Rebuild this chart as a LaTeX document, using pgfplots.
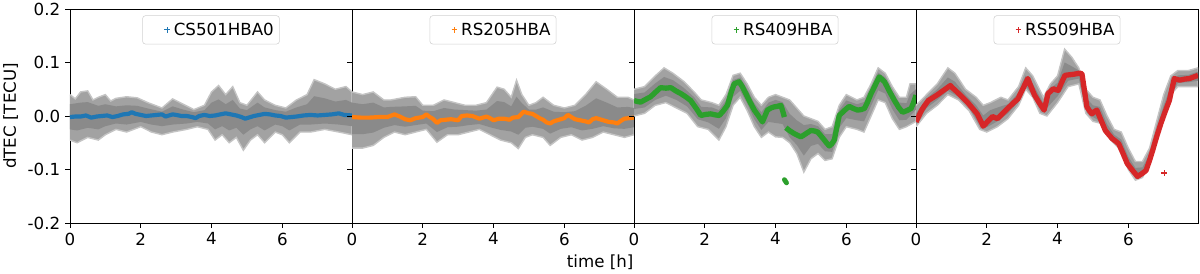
\documentclass[border=0pt]{standalone}
\usepackage{fontspec}
\setmainfont{DejaVu Sans}
\usepackage{pgfplots}
\pgfplotsset{compat=1.18}
\definecolor{C0}{HTML}{1F77B4}
\definecolor{C1}{HTML}{FF7F0E}
\definecolor{C2}{HTML}{2CA02C}
\definecolor{C3}{HTML}{D62728}
\definecolor{gout}{HTML}{A2A2A2}
\definecolor{gedge}{HTML}{C4C4C4}
\definecolor{gin}{HTML}{8A8A8A}
\pgfplotsset{
  panel/.style={
    scale only axis, width=203.04pt, height=154.08pt,
    xmin=0, xmax=7.97, ymin=-0.2, ymax=0.2,
    xtick={0,2,4,6}, ytick={-0.2,-0.1,0,0.1,0.2},
    tick align=outside, tick pos=left, major tick length=3.5pt,
    /pgf/number format/assume math mode=true,
    ticklabel style={font=\fontsize{12}{14}\selectfont},
    label style={font=\fontsize{12}{14}\selectfont},
    axis line style={line width=0.6pt},
    every tick/.style={black, line width=0.6pt},
    legend style={at={(0.5,0.97)}, anchor=north, draw=black!18, rounded corners=2pt,
      fill=white, fill opacity=0.8, text opacity=1, font=\fontsize{12}{14}\selectfont,
      inner xsep=2pt, inner ysep=3pt},
    legend image code/.code={\path[draw=none, fill=none] (0,0) -- (0.65cm,0);
      \draw[##1, line width=0.7pt, mark=+, mark size=2pt, mark options={solid, line width=0.7pt}] plot coordinates {(0.55cm,0cm)};},
  },
  outer/.style={fill=gout, draw=gedge, line width=1pt, forget plot},
  inner/.style={fill=gin, draw=none, forget plot},
}
\begin{document}
\begin{tikzpicture}
\useasboundingbox (-50.4pt,-36.72pt) rectangle (813.6pt,160.56pt);
% ---------------- panel 1 ----------------
\begin{axis}[panel, at={(0pt,0pt)}, ylabel={dTEC [TECU]},
  yticklabels={-0.2,-0.1,0.0,0.1,0.2}]
\addplot[outer] coordinates {
(0,0.040)(0.15,0.032)(0.3,0.045)(0.5,0.047)(0.65,0.030)(0.8,0.035)(1.0,0.040)(1.15,0.028)(1.3,0.033)(1.6,0.036)(1.9,0.034)(2.2,0.025)(2.4,0.020)(2.6,0.015)(2.9,0.032)(3.2,0.022)(3.5,0.012)(3.8,0.020)(4.0,0.045)(4.2,0.057)(4.4,0.040)(4.6,0.055)(4.8,0.025)(5.0,0.020)(5.3,0.045)(5.5,0.030)(5.8,0.020)(6.1,0.015)(6.4,0.030)(6.7,0.040)(6.9,0.068)(7.2,0.060)(7.5,0.050)(7.8,0.055)(7.97,0.045)
(7.97,-0.035)(7.6,-0.030)(7.2,-0.025)(6.8,-0.030)(6.5,-0.030)(6.2,-0.050)(6.0,-0.035)(5.8,-0.030)(5.5,-0.050)(5.3,-0.035)(5.1,-0.045)(4.9,-0.064)(4.7,-0.040)(4.5,-0.050)(4.3,-0.035)(4.1,-0.045)(3.9,-0.025)(3.6,-0.020)(3.3,-0.025)(2.9,-0.030)(2.6,-0.035)(2.3,-0.030)(2.0,-0.020)(1.6,-0.030)(1.3,-0.025)(1.0,-0.035)(0.8,-0.045)(0.5,-0.040)(0.2,-0.050)(0,-0.045)};
\addplot[inner] coordinates {
(0,0.022)(0.3,0.025)(0.5,0.026)(0.8,0.019)(1.0,0.022)(1.3,0.018)(1.6,0.020)(1.9,0.019)(2.2,0.014)(2.6,0.008)(2.9,0.018)(3.2,0.012)(3.5,0.007)(3.8,0.011)(4.0,0.025)(4.2,0.031)(4.4,0.022)(4.6,0.030)(4.8,0.014)(5.0,0.011)(5.3,0.025)(5.5,0.016)(5.8,0.011)(6.1,0.008)(6.4,0.016)(6.7,0.022)(6.9,0.037)(7.2,0.033)(7.5,0.027)(7.8,0.030)(7.97,0.025)
(7.97,-0.019)(7.6,-0.016)(7.2,-0.014)(6.8,-0.016)(6.5,-0.016)(6.2,-0.027)(6.0,-0.019)(5.8,-0.016)(5.5,-0.027)(5.3,-0.019)(5.1,-0.025)(4.9,-0.035)(4.7,-0.022)(4.5,-0.027)(4.3,-0.019)(4.1,-0.025)(3.9,-0.014)(3.6,-0.011)(3.3,-0.014)(2.9,-0.016)(2.6,-0.019)(2.3,-0.016)(2.0,-0.011)(1.6,-0.016)(1.3,-0.014)(1.0,-0.019)(0.8,-0.025)(0.5,-0.022)(0.2,-0.027)(0,-0.025)};
\addplot[C0, line width=3pt, line join=round] coordinates {
(0,-0.002)(0.15,-0.001)(0.3,-0.001)(0.45,0.001)(0.6,-0.003)(0.75,-0.001)(0.9,0.0)(1.05,0.001)(1.2,-0.002)(1.35,0.0)(1.5,0.003)(1.65,0.004)(1.75,0.007)(1.85,0.004)(2.0,0.002)(2.15,0.0)(2.3,0.001)(2.45,0.002)(2.6,0.003)(2.7,-0.001)(2.8,0.001)(2.9,0.003)(3.0,0.002)(3.15,0.0)(3.3,0.0)(3.45,-0.002)(3.55,-0.004)(3.65,0.0)(3.8,0.002)(3.95,0.0)(4.1,0.001)(4.25,0.003)(4.4,0.005)(4.55,0.003)(4.7,0.001)(4.85,-0.002)(4.95,-0.005)(5.05,-0.003)(5.2,0.0)(5.35,0.002)(5.5,0.004)(5.65,0.003)(5.8,0.001)(5.95,0.0)(6.1,-0.003)(6.25,-0.002)(6.4,-0.001)(6.6,0.001)(6.8,0.002)(7.0,0.001)(7.2,0.002)(7.4,0.003)(7.6,0.005)(7.75,0.002)(7.97,0.001)};
\addlegendentry{CS501HBA0}
\end{axis}
% ---------------- panel 2 ----------------
\begin{axis}[panel, at={(203.04pt,0pt)}, yticklabels={}, xlabel={time [h]},
  xlabel style={at={(ticklabel cs:0.88)}}]
\addplot[outer] coordinates {
(0,0.045)(0.3,0.040)(0.6,0.045)(0.9,0.030)(1.1,0.030)(1.5,0.035)(1.8,0.036)(2.0,0.020)(2.3,0.020)(2.6,0.030)(2.9,0.025)(3.2,0.020)(3.5,0.020)(3.8,0.025)(4.1,0.054)(4.3,0.050)(4.5,0.035)(4.65,0.067)(4.8,0.040)(5.0,0.020)(5.2,0.025)(5.4,0.035)(5.7,0.020)(6.0,0.015)(6.3,0.020)(6.6,0.040)(6.9,0.064)(7.2,0.050)(7.5,0.035)(7.8,0.035)(7.97,0.030)
(7.97,-0.035)(7.7,-0.040)(7.4,-0.035)(7.1,-0.030)(6.8,-0.040)(6.5,-0.045)(6.2,-0.035)(5.9,-0.040)(5.6,-0.055)(5.4,-0.040)(5.1,-0.035)(4.9,-0.040)(4.7,-0.061)(4.5,-0.050)(4.2,-0.045)(3.9,-0.035)(3.6,-0.025)(3.3,-0.030)(3.0,-0.035)(2.7,-0.035)(2.4,-0.049)(2.1,-0.025)(1.8,-0.030)(1.5,-0.035)(1.2,-0.030)(0.9,-0.040)(0.6,-0.055)(0.3,-0.060)(0,-0.060)};
\addplot[inner] coordinates {
(0,0.025)(0.3,0.022)(0.6,0.025)(0.9,0.016)(1.1,0.017)(1.5,0.018)(1.8,0.019)(2.0,0.010)(2.3,0.009)(2.6,0.015)(2.9,0.012)(3.2,0.011)(3.5,0.010)(3.8,0.012)(4.1,0.028)(4.3,0.026)(4.5,0.018)(4.65,0.036)(4.8,0.024)(5.0,0.012)(5.2,0.012)(5.4,0.016)(5.7,0.008)(6.0,0.007)(6.3,0.009)(6.6,0.019)(6.9,0.033)(7.2,0.025)(7.5,0.016)(7.8,0.017)(7.97,0.015)
(7.97,-0.021)(7.7,-0.024)(7.4,-0.023)(7.1,-0.019)(6.8,-0.024)(6.5,-0.027)(6.2,-0.021)(5.9,-0.024)(5.6,-0.033)(5.4,-0.024)(5.1,-0.020)(4.9,-0.022)(4.7,-0.035)(4.5,-0.029)(4.2,-0.026)(3.9,-0.021)(3.6,-0.015)(3.3,-0.017)(3.0,-0.020)(2.7,-0.021)(2.4,-0.030)(2.1,-0.014)(1.8,-0.017)(1.5,-0.020)(1.2,-0.017)(0.9,-0.022)(0.6,-0.031)(0.3,-0.034)(0,-0.034)};
\addplot[C1, line width=3pt, line join=round] coordinates {
(0,-0.002)(0.25,-0.003)(0.5,-0.003)(0.75,-0.002)(1.0,-0.002)(1.2,0.003)(1.35,-0.001)(1.5,-0.006)(1.65,-0.008)(1.8,-0.004)(2.0,-0.002)(2.1,0.003)(2.2,-0.002)(2.3,-0.006)(2.4,-0.013)(2.5,-0.008)(2.65,-0.007)(2.8,-0.006)(3.0,-0.008)(3.1,0.0)(3.25,0.001)(3.4,0.0)(3.6,-0.005)(3.8,-0.001)(3.9,-0.004)(4.0,-0.008)(4.15,-0.005)(4.3,-0.005)(4.45,-0.007)(4.55,-0.003)(4.7,-0.002)(4.85,0.008)(5.0,0.005)(5.1,0.004)(5.2,0.0)(5.3,-0.004)(5.4,-0.007)(5.5,-0.012)(5.6,-0.014)(5.7,-0.010)(5.8,-0.008)(5.9,-0.006)(6.0,-0.004)(6.1,0.002)(6.2,-0.002)(6.3,-0.006)(6.45,-0.008)(6.6,-0.010)(6.7,-0.012)(6.8,-0.006)(6.9,-0.004)(7.0,-0.006)(7.1,-0.008)(7.25,-0.011)(7.4,-0.012)(7.5,-0.014)(7.6,-0.009)(7.7,-0.005)(7.85,-0.004)(7.97,-0.003)};
\addlegendentry{RS205HBA}
\end{axis}
% ---------------- panel 3 ----------------
\begin{axis}[panel, at={(406.08pt,0pt)}, yticklabels={}]
\addplot[outer] coordinates {
(0,0.050)(0.3,0.055)(0.6,0.075)(0.85,0.090)(1.1,0.080)(1.4,0.065)(1.7,0.045)(1.9,0.030)(2.2,0.025)(2.4,0.020)(2.6,0.040)(2.8,0.076)(3.0,0.080)(3.2,0.060)(3.4,0.035)(3.6,0.020)(3.8,0.035)(4.0,0.040)(4.2,0.035)(4.4,0.030)(4.6,0.015)(4.8,0.000)(5.0,-0.005)(5.2,-0.010)(5.4,-0.025)(5.6,-0.020)(5.8,0.020)(6.0,0.040)(6.3,0.030)(6.5,0.035)(6.7,0.060)(6.9,0.090)(7.1,0.080)(7.3,0.055)(7.5,0.035)(7.7,0.035)(7.8,0.060)(7.97,0.060)
(7.97,-0.010)(7.7,-0.020)(7.5,-0.025)(7.3,-0.005)(7.1,0.025)(6.9,0.030)(6.7,0.000)(6.5,-0.030)(6.3,-0.025)(6.0,-0.020)(5.8,-0.040)(5.6,-0.080)(5.4,-0.083)(5.2,-0.070)(5.0,-0.080)(4.8,-0.105)(4.6,-0.070)(4.4,-0.050)(4.2,-0.040)(4.0,-0.039)(3.8,-0.030)(3.6,-0.040)(3.4,-0.020)(3.2,0.010)(3.0,0.035)(2.8,0.020)(2.6,-0.020)(2.4,-0.045)(2.1,-0.025)(1.8,-0.020)(1.5,0.005)(1.2,0.015)(0.9,0.025)(0.6,0.020)(0.3,0.005)(0,0.000)};
\addplot[inner] coordinates {
(0,0.041)(0.3,0.044)(0.6,0.061)(0.85,0.073)(1.1,0.067)(1.4,0.053)(1.7,0.035)(1.9,0.017)(2.2,0.016)(2.4,0.011)(2.6,0.029)(2.8,0.067)(3.0,0.072)(3.2,0.050)(3.4,0.024)(3.6,0.007)(3.8,0.025)(4.0,0.030)(4.2,0.026)(4.4,0.004)(4.6,-0.008)(4.8,-0.017)(5.0,-0.015)(5.2,-0.019)(5.4,-0.034)(5.6,-0.034)(5.8,0.011)(6.0,0.029)(6.3,0.022)(6.5,0.026)(6.7,0.052)(6.9,0.081)(7.1,0.072)(7.3,0.046)(7.5,0.025)(7.7,0.024)(7.8,0.040)(7.97,0.050)
(7.97,0.012)(7.7,-0.007)(7.5,-0.008)(7.3,0.013)(7.1,0.042)(6.9,0.048)(6.7,0.019)(6.5,-0.010)(6.3,-0.008)(6.0,-0.004)(5.8,-0.022)(5.6,-0.067)(5.4,-0.066)(5.2,-0.052)(5.0,-0.056)(4.8,-0.074)(4.6,-0.054)(4.4,-0.040)(4.2,-0.015)(4.0,-0.013)(3.8,-0.011)(3.6,-0.026)(3.4,-0.006)(3.2,0.023)(3.0,0.047)(2.8,0.036)(2.6,-0.004)(2.4,-0.024)(2.1,-0.012)(1.8,-0.006)(1.5,0.018)(1.2,0.030)(0.9,0.038)(0.6,0.030)(0.3,0.016)(0,0.013)};
\addplot[C2, line width=3.8pt, line join=round] coordinates {
(0,0.029)(0.1,0.027)(0.19,0.026)(0.3,0.030)(0.47,0.036)(0.6,0.044)(0.75,0.053)(0.9,0.052)(1.04,0.053)(1.18,0.047)(1.32,0.042)(1.46,0.036)(1.6,0.029)(1.75,0.015)(1.89,0.001)(2.03,0.003)(2.17,0.004)(2.3,0.002)(2.41,0.001)(2.53,0.010)(2.64,0.020)(2.75,0.045)(2.83,0.060)(2.97,0.064)(3.06,0.055)(3.16,0.042)(3.28,0.026)(3.40,0.011)(3.52,0.000)(3.63,-0.011)(3.70,0.000)(3.77,0.011)(3.87,0.015)(3.96,0.017)(4.05,0.018)(4.15,0.020)(4.20,0.010)(4.25,-0.002)};
\addlegendentry{RS409HBA}
\addplot[C2, line width=3.8pt, line join=round, forget plot] coordinates {
(4.29,-0.022)(4.41,-0.028)(4.53,-0.033)(4.62,-0.036)(4.72,-0.039)(4.86,-0.033)(5.0,-0.027)(5.1,-0.028)(5.19,-0.030)(5.28,-0.037)(5.38,-0.045)(5.45,-0.051)(5.52,-0.056)(5.59,-0.052)(5.66,-0.045)(5.73,-0.022)(5.80,0.001)(5.94,0.010)(6.08,0.018)(6.20,0.014)(6.32,0.011)(6.42,0.012)(6.51,0.014)(6.60,0.026)(6.70,0.042)(6.82,0.058)(6.93,0.073)(7.00,0.069)(7.08,0.064)(7.22,0.046)(7.36,0.029)(7.48,0.016)(7.59,0.007)(7.71,0.010)(7.83,0.014)(7.90,0.025)(7.97,0.039)};
\addplot[C2, line width=3.5pt, line cap=round, forget plot] coordinates {(4.25,-0.119)(4.31,-0.125)};
\end{axis}
% ---------------- panel 4 ----------------
\begin{axis}[panel, at={(609.12pt,0pt)}, yticklabels={}]
\addplot[outer] coordinates {
(0,0.020)(0.3,0.040)(0.6,0.060)(0.9,0.090)(1.1,0.080)(1.4,0.050)(1.7,0.035)(1.9,0.020)(2.1,0.025)(2.4,0.035)(2.6,0.030)(2.9,0.055)(3.1,0.090)(3.3,0.075)(3.6,0.035)(3.8,0.060)(4.0,0.075)(4.2,0.125)(4.4,0.110)(4.6,0.090)(4.8,0.050)(5.0,0.035)(5.2,0.030)(5.4,0.000)(5.6,-0.025)(5.8,-0.030)(6.0,-0.060)(6.2,-0.085)(6.4,-0.085)(6.6,-0.060)(6.8,-0.010)(7.0,0.040)(7.2,0.075)(7.4,0.085)(7.7,0.085)(7.97,0.090)
(7.97,0.055)(7.7,0.055)(7.4,0.055)(7.2,0.040)(7.0,-0.005)(6.8,-0.045)(6.6,-0.090)(6.4,-0.115)(6.2,-0.120)(6.0,-0.100)(5.8,-0.065)(5.5,-0.045)(5.3,-0.015)(5.0,-0.010)(4.8,0.005)(4.6,0.060)(4.3,0.055)(4.0,0.025)(3.7,0.000)(3.5,0.005)(3.3,0.035)(3.1,0.050)(2.9,0.020)(2.6,-0.005)(2.3,-0.020)(2.0,-0.030)(1.8,-0.025)(1.5,0.010)(1.2,0.030)(0.9,0.040)(0.6,0.020)(0.3,0.005)(0,-0.020)};
\addplot[inner] coordinates {
(0,0.005)(0.3,0.033)(0.6,0.050)(0.9,0.072)(1.1,0.064)(1.4,0.040)(1.7,0.020)(1.9,0.001)(2.1,0.011)(2.4,0.018)(2.6,0.022)(2.9,0.044)(3.1,0.076)(3.3,0.060)(3.6,0.024)(3.8,0.052)(4.0,0.062)(4.2,0.100)(4.4,0.093)(4.6,0.085)(4.8,0.035)(5.0,0.020)(5.2,0.017)(5.4,-0.015)(5.6,-0.035)(5.8,-0.044)(6.0,-0.076)(6.2,-0.097)(6.4,-0.096)(6.6,-0.072)(6.8,-0.025)(7.0,0.020)(7.2,0.056)(7.4,0.076)(7.7,0.077)(7.97,0.083)
(7.97,0.066)(7.7,0.063)(7.4,0.062)(7.2,0.039)(7.0,-0.003)(6.8,-0.043)(6.6,-0.087)(6.4,-0.112)(6.2,-0.115)(6.0,-0.096)(5.8,-0.062)(5.5,-0.043)(5.3,-0.013)(5.0,-0.002)(4.8,0.013)(4.6,0.070)(4.3,0.066)(4.0,0.037)(3.7,0.015)(3.5,0.015)(3.3,0.040)(3.1,0.056)(2.9,0.027)(2.6,0.005)(2.3,-0.010)(2.0,-0.021)(1.8,-0.017)(1.5,0.016)(1.2,0.036)(0.9,0.047)(0.6,0.030)(0.3,0.015)(0,-0.015)};
\addplot[C3, line width=3.8pt, line join=round] coordinates {
(0,-0.011)(0.08,0.000)(0.16,0.011)(0.25,0.020)(0.35,0.029)(0.47,0.034)(0.59,0.039)(0.78,0.048)(0.97,0.057)(1.04,0.052)(1.11,0.048)(1.28,0.037)(1.45,0.026)(1.59,0.015)(1.73,0.004)(1.82,-0.008)(1.90,-0.019)(2.03,-0.010)(2.16,-0.001)(2.23,-0.003)(2.30,-0.005)(2.45,0.005)(2.59,0.014)(2.73,0.023)(2.88,0.032)(3.02,0.051)(3.16,0.070)(3.25,0.055)(3.35,0.039)(3.48,0.025)(3.62,0.011)(3.68,0.027)(3.73,0.042)(3.80,0.046)(3.88,0.051)(3.95,0.049)(4.02,0.048)(4.11,0.062)(4.21,0.076)(4.45,0.078)(4.63,0.080)(4.69,0.079)(4.76,0.048)(4.83,0.017)(4.90,0.010)(4.97,0.004)(5.04,0.008)(5.11,0.011)(5.23,-0.008)(5.35,-0.027)(5.45,-0.035)(5.54,-0.042)(5.64,-0.047)(5.73,-0.052)(5.85,-0.070)(5.97,-0.089)(6.11,-0.101)(6.26,-0.113)(6.38,-0.108)(6.50,-0.102)(6.60,-0.083)(6.69,-0.064)(6.80,-0.039)(6.92,-0.014)(7.04,0.008)(7.16,0.029)(7.23,0.050)(7.30,0.070)(7.45,0.067)(7.59,0.069)(7.73,0.070)(7.85,0.073)(7.97,0.076)};
\addlegendentry{RS509HBA}
\addplot[C3, only marks, mark=+, mark size=2.2pt, mark options={line width=1.2pt}, forget plot] coordinates {(7.02,-0.107)};
\end{axis}
\end{tikzpicture}
\end{document}
